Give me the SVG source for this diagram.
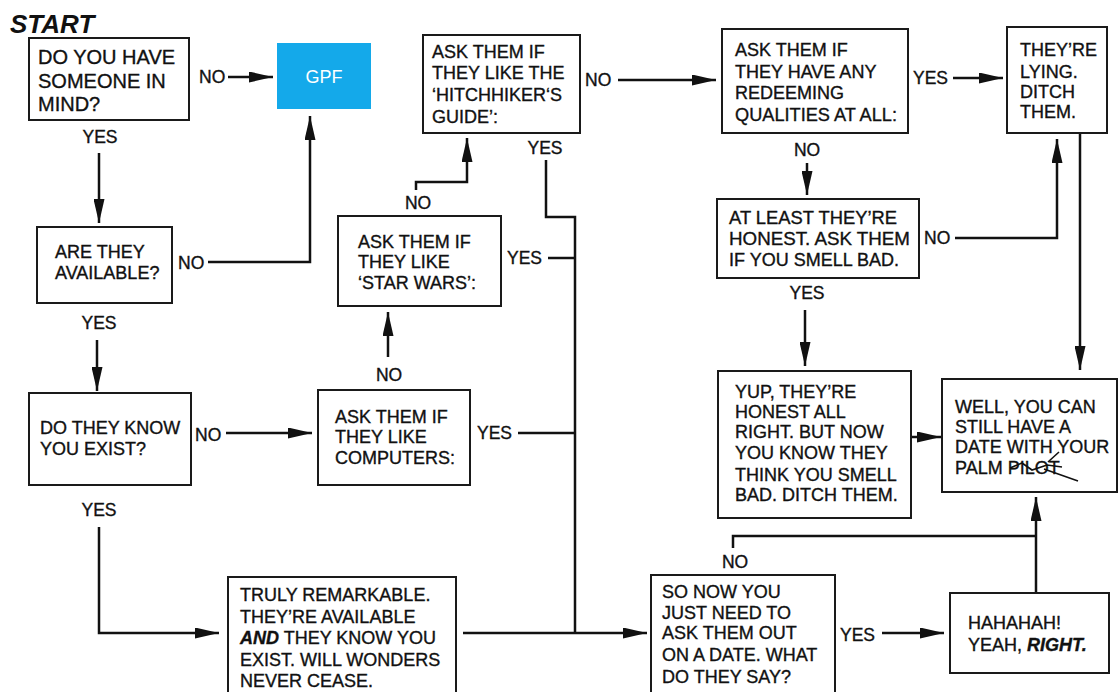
<svg xmlns="http://www.w3.org/2000/svg" width="1118" height="692" viewBox="0 0 1118 692">
<style>
.bg{fill:#fff}
.box{fill:#fff;stroke:#1a1a1a;stroke-width:2}
.t{font-family:"Liberation Sans",Arial,sans-serif;font-size:18px;fill:#111;stroke:#111;stroke-width:0.35}
.big{font-size:20px}
.lbl{font-family:"Liberation Sans",Arial,sans-serif;font-size:17.5px;fill:#111;stroke:#111;stroke-width:0.35}
.c{fill:none;stroke:#111;stroke-width:2.5}
.ca{fill:none;stroke:#111;stroke-width:2.5;marker-end:url(#ah)}
</style>
<defs>
<marker id="ah" markerUnits="userSpaceOnUse" markerWidth="24" markerHeight="11" refX="24" refY="5.5" orient="auto">
<path d="M0,0 L24,5.5 L0,11 z" fill="#111"/>
</marker>
</defs>
<rect class="bg" x="0" y="0" width="1118" height="692"/>
<text x="10" y="33" font-family="'Liberation Sans',Arial,sans-serif" font-size="26" font-weight="bold" font-style="italic" fill="#111">START</text>

<g id="connectors">
<path class="ca" d="M228,77 H273"/>
<path class="ca" d="M99,153 V223"/>
<path class="ca" d="M208,262 H310 V116"/>
<path class="ca" d="M97,340 V391"/>
<path class="ca" d="M226,433 H312"/>
<path class="ca" d="M99,527 V633 H219"/>
<path class="ca" d="M388,357 V312"/>
<path class="ca" d="M416,190 V182 H467 V138"/>
<path class="c" d="M546,160 V217 H575 V633"/>
<path class="c" d="M548,258 H575"/>
<path class="c" d="M518,433 H575"/>
<path class="ca" d="M463,633 H647"/>
<path class="ca" d="M618,80 H716"/>
<path class="ca" d="M953,78 H1003"/>
<path class="ca" d="M807,163 V195"/>
<path class="ca" d="M955,238 H1057 V139"/>
<path class="ca" d="M1080,133 V370"/>
<path class="ca" d="M805,310 V366"/>
<path class="ca" d="M911,437 H941"/>
<path class="c" d="M733,548 V536 H1036"/>
<path class="ca" d="M1036,593 V497"/>
<path class="ca" d="M882,633 H944"/>
<text class="lbl" x="199" y="83">NO</text>
<text class="lbl" x="100" y="143" text-anchor="middle">YES</text>
<text class="lbl" x="178" y="269">NO</text>
<text class="lbl" x="99" y="329" text-anchor="middle">YES</text>
<text class="lbl" x="195" y="441">NO</text>
<text class="lbl" x="99" y="516" text-anchor="middle">YES</text>
<text class="lbl" x="477" y="439">YES</text>
<text class="lbl" x="389" y="381" text-anchor="middle">NO</text>
<text class="lbl" x="507" y="264">YES</text>
<text class="lbl" x="418" y="209" text-anchor="middle">NO</text>
<text class="lbl" x="585" y="86">NO</text>
<text class="lbl" x="545" y="154" text-anchor="middle">YES</text>
<text class="lbl" x="913" y="84">YES</text>
<text class="lbl" x="807" y="156" text-anchor="middle">NO</text>
<text class="lbl" x="924" y="244">NO</text>
<text class="lbl" x="807" y="299" text-anchor="middle">YES</text>
<text class="lbl" x="735" y="568" text-anchor="middle">NO</text>
<text class="lbl" x="840" y="641">YES</text>
</g>

<g id="n-mind">
<rect class="box" x="29" y="38" width="160" height="82"/>
<text class="t big" x="38" y="64">DO YOU HAVE</text>
<text class="t big" x="38" y="88">SOMEONE IN</text>
<text class="t big" x="38" y="111">MIND?</text>
</g>

<g id="n-gpf">
<rect x="277" y="43" width="94" height="66" fill="#14a9ea"/>
<text x="324" y="83" text-anchor="middle" font-family="'Liberation Sans',Arial,sans-serif" font-size="18" fill="#fff">GPF</text>
</g>

<g id="n-available">
<rect class="box" x="37" y="227" width="135" height="76"/>
<text class="t" x="55" y="258">ARE THEY</text>
<text class="t" x="55" y="279">AVAILABLE?</text>
</g>

<g id="n-exist">
<rect class="box" x="29" y="393" width="162" height="92"/>
<text class="t" x="40" y="434">DO THEY KNOW</text>
<text class="t" x="40" y="455">YOU EXIST?</text>
</g>

<g id="n-computers">
<rect class="box" x="318" y="390" width="152" height="95"/>
<text class="t" x="335" y="423">ASK THEM IF</text>
<text class="t" x="335" y="443">THEY LIKE</text>
<text class="t" x="335" y="464">COMPUTERS:</text>
</g>

<g id="n-starwars">
<rect class="box" x="338" y="216" width="163" height="90"/>
<text class="t" x="358" y="248">ASK THEM IF</text>
<text class="t" x="358" y="268">THEY LIKE</text>
<text class="t" x="358" y="289">‘STAR WARS’:</text>
</g>

<g id="n-hitchhiker">
<rect class="box" x="423" y="35" width="157" height="98"/>
<text class="t" x="432" y="58">ASK THEM IF</text>
<text class="t" x="432" y="79">THEY LIKE THE</text>
<text class="t" x="432" y="101">‘HITCHHIKER‘S</text>
<text class="t" x="432" y="123">GUIDE’:</text>
</g>

<g id="n-remarkable">
<rect class="box" x="228" y="577" width="228" height="130"/>
<text class="t" x="240" y="601">TRULY REMARKABLE.</text>
<text class="t" x="240" y="623">THEY’RE AVAILABLE</text>
<text class="t" x="240" y="644"><tspan font-style="italic" font-weight="bold">AND</tspan> THEY KNOW YOU</text>
<text class="t" x="240" y="666">EXIST. WILL WONDERS</text>
<text class="t" x="240" y="687">NEVER CEASE.</text>
</g>

<g id="n-date">
<rect class="box" x="651" y="575" width="184" height="130"/>
<text class="t" x="662" y="598">SO NOW YOU</text>
<text class="t" x="662" y="619">JUST NEED TO</text>
<text class="t" x="662" y="639">ASK THEM OUT</text>
<text class="t" x="662" y="661">ON A DATE. WHAT</text>
<text class="t" x="662" y="683">DO THEY SAY?</text>
</g>

<g id="n-haha">
<rect class="box" x="950" y="593" width="159" height="80"/>
<text class="t" x="968" y="629">HAHAHAH!</text>
<text class="t" x="968" y="651">YEAH, <tspan font-style="italic" font-weight="bold">RIGHT.</tspan></text>
</g>

<g id="n-redeeming">
<rect class="box" x="722" y="29" width="186" height="104"/>
<text class="t" x="735" y="56">ASK THEM IF</text>
<text class="t" x="735" y="78">THEY HAVE ANY</text>
<text class="t" x="735" y="99">REDEEMING</text>
<text class="t" x="735" y="121" textLength="162" lengthAdjust="spacingAndGlyphs">QUALITIES AT ALL:</text>
</g>

<g id="n-lying">
<rect class="box" x="1007" y="27" width="100" height="106"/>
<text class="t" x="1020" y="56">THEY’RE</text>
<text class="t" x="1020" y="78">LYING.</text>
<text class="t" x="1020" y="98">DITCH</text>
<text class="t" x="1020" y="118">THEM.</text>
</g>

<g id="n-honest">
<rect class="box" x="717" y="199" width="202" height="79"/>
<text class="t" x="729" y="224" textLength="168" lengthAdjust="spacingAndGlyphs">AT LEAST THEY’RE</text>
<text class="t" x="729" y="245" textLength="181" lengthAdjust="spacingAndGlyphs">HONEST. ASK THEM</text>
<text class="t" x="729" y="266">IF YOU SMELL BAD.</text>
</g>

<g id="n-yup">
<rect class="box" x="718" y="371" width="193" height="147"/>
<text class="t" x="735" y="398">YUP, THEY’RE</text>
<text class="t" x="735" y="418">HONEST ALL</text>
<text class="t" x="735" y="438">RIGHT. BUT NOW</text>
<text class="t" x="735" y="459">YOU KNOW THEY</text>
<text class="t" x="735" y="481">THINK YOU SMELL</text>
<text class="t" x="735" y="501">BAD. DITCH THEM.</text>
</g>

<g id="n-palm">
<rect class="box" x="942" y="379" width="175" height="113"/>
<text class="t" x="955" y="413">WELL, YOU CAN</text>
<text class="t" x="955" y="433">STILL HAVE A</text>
<text class="t" x="955" y="453">DATE WITH YOUR</text>
<text class="t" x="955" y="474">PALM PILOT</text>
<path d="M1010,468 L1022,463 L1032,470 L1047,465 L1062,467 M1044,469 L1078,481 M1048,462 L1059,452" fill="none" stroke="#111" stroke-width="1.6"/>
</g>
</svg>
